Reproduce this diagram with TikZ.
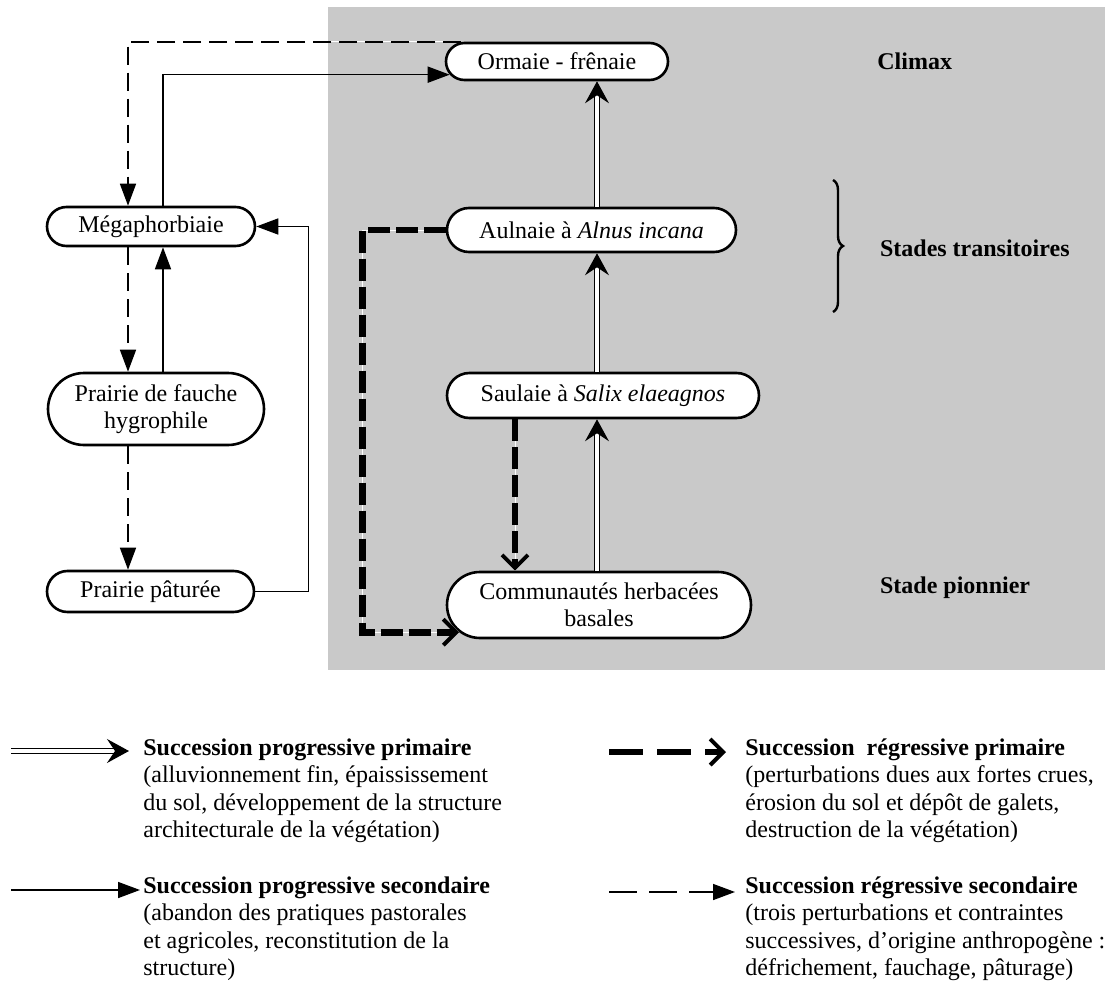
\documentclass[tikz,border=0pt]{standalone}
\usepackage{fontspec}
\setmainfont{Liberation Serif}
\usetikzlibrary{arrows.meta, positioning, shapes.misc, decorations.pathreplacing}

\begin{document}
\begin{tikzpicture}[x=0.5pt, y=-0.5pt,
        font=\fontsize{12}{13.75}\selectfont,
        veg/.style={rounded rectangle, draw, line width=1.3pt,
                    fill=white, inner sep=2pt, align=center},
        stagelabel/.style={anchor=west, font=\fontsize{12}{14}\selectfont\bfseries},
        progprim/.style={double, line width=0.6pt, double distance=2.2pt,
                         -{Stealth[length=11pt, width=12pt, inset=4pt]}},
        progsec/.style={line width=0.8pt, -{Triangle[length=11pt, width=8pt]}},
        regprim/.style={line width=3.4pt, dash pattern=on 11pt off 3pt,
                        preaction={draw=white, solid},
                        -{Straight Barb[length=6.5pt, width=13pt, line width=2pt]}},
        regsec/.style={line width=0.8pt, dash pattern=on 9pt off 4pt,
                       preaction={draw=white, solid},
                       -{Triangle[length=11pt, width=8pt]}},
        legtext/.style={anchor=north west, align=left, inner sep=0pt}]

        \useasboundingbox (0,0) rectangle (1105,985);

        % Shaded zone of the natural succession
        \fill[black!21] (328,7) rectangle (1105,670);

        % Add the vegetation stages
        \node[veg, minimum width=115pt, minimum height=18.5pt]
            (orm) at (557,61.5) {Ormaie - frênaie};
        \node[veg, minimum width=148.5pt, minimum height=22pt]
            (aul) at (591.5,230) {Aulnaie à \textit{Alnus incana}};
        \node[veg, minimum width=160pt, minimum height=22.5pt]
            (sau) at (603,395.5) {Saulaie à \textit{Salix elaeagnos}};
        \node[veg, minimum width=156pt, minimum height=33pt]
            (com) at (599,605) {Communautés herbacées\\basales};
        \node[veg, minimum width=108pt, minimum height=19.5pt]
            (meg) at (151,226.5) {Mégaphorbiaie};
        \node[veg, minimum width=112pt, minimum height=36pt]
            (fau) at (156,409) {Prairie de fauche\\hygrophile};
        \node[veg, minimum width=107.5pt, minimum height=20.5pt]
            (pat) at (150.5,591.5) {Prairie pâturée};

        % Stage labels
        \node[stagelabel, right=100.5pt of orm] (climax) {Climax};
        \node[stagelabel] (trans) at (873,248) {Stades transitoires};
        \node[stagelabel] (pion) at (873,588) {Stade pionnier};
        \coordinate (brtop) at (833,180);
        \coordinate (brbot) at (833,312);
        \draw[line width=1.2pt, decorate, decoration={brace, amplitude=5pt}]
            (brtop) -- (brbot);

        % Connect the stages with arrows
        \coordinate (axis) at (597,0);
        \draw[progprim] (com.north -| axis) -- (sau.south -| axis);
        \draw[progprim] (sau.north -| axis) -- (aul.south -| axis);
        \draw[progprim] (aul.north -| axis) -- (orm.south -| axis);

        \draw[progsec] ([xshift=6pt]meg.north) |- (orm.187.6);
        \draw[progsec] ([xshift=6pt]meg.south |- fau.north) -- ([xshift=6pt]meg.south);
        \draw[progsec] (pat.east) -- ++(26.5pt,0) |- (meg.east);

        \draw[regprim] (aul.west) -- ++(-41.75pt,0) |- (com.191);
        \draw[regprim] ([xshift=-44pt]sau.south) -- ([xshift=-44pt]sau.south |- com.north);

        \draw[regsec] ([xshift=-48pt]orm.north) -| ([xshift=-11.5pt]meg.north);
        \draw[regsec] ([xshift=-11.5pt]meg.south) -- ([xshift=-11.5pt]meg.south |- fau.north);
        \draw[regsec] ([xshift=-11.5pt]meg.south |- fau.south) -- ([xshift=-11.5pt]meg.south |- pat.north);

        % Legend
        \coordinate (l1a) at (11,751);  \coordinate (l1b) at (129,751);
        \coordinate (l2a) at (11,890);  \coordinate (l2b) at (140,890);
        \coordinate (l3a) at (609,752); \coordinate (l3b) at (726,752);
        \coordinate (l4a) at (609,892); \coordinate (l4b) at (735,892);
        \draw[progprim] (l1a) -- (l1b);
        \draw[progsec] (l2a) -- (l2b);
        \draw[regprim, dash pattern=on 17pt off 7pt] (l3a) -- (l3b);
        \draw[regsec, dash pattern=on 14pt off 6pt] (l4a) -- (l4b);

        \node[legtext] (leg1) at (143,735.75)
            {\strut\textbf{Succession progressive primaire}\\
             (alluvionnement fin, épaississement\\
             du sol, développement de la structure\\
             architecturale de la végétation)};
        \node[legtext] (leg2) at (143,873.75)
            {\strut\textbf{Succession progressive secondaire}\\
             (abandon des pratiques pastorales\\
             et agricoles, reconstitution de la\\
             structure)};
        \node[legtext] (leg3) at (745,735.75)
            {\strut\textbf{Succession~ régressive primaire}\\
             (perturbations dues aux fortes crues,\\
             érosion du sol et dépôt de galets,\\
             destruction de la végétation)};
        \node[legtext] (leg4) at (745,873.75)
            {\strut\textbf{Succession régressive secondaire}\\
             (trois perturbations et contraintes\\
             successives, d'origine anthropogène :\\
             défrichement, fauchage, pâturage)};
\end{tikzpicture}
\end{document}
